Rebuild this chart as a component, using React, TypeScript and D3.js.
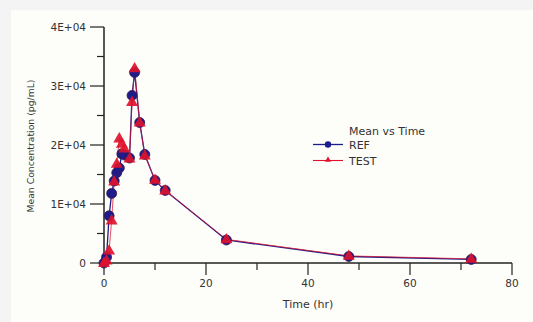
import React from 'react';
import * as d3 from 'd3';

// sampling times (hr) and mean concentrations (pg/mL)
const times = [0, 0.5, 1, 1.5, 2, 2.5, 3, 3.5, 4, 5, 5.5, 6, 7, 8, 10, 12, 24, 48, 72];
const refValues = [0, 1000, 8000, 11800, 13900, 15300, 16100, 18500, 18300, 17800, 28400, 32300, 23800, 18400, 14000, 12300, 3900, 1100, 600];
const testValues = [0, 400, 2100, 7200, 13800, 16800, 21100, 20200, 19400, 17700, 27300, 33000, 23800, 18200, 14100, 12300, 4000, 1200, 700];

const xMajorTicks = [0, 20, 40, 60, 80];
const xMinorTicks = [10, 30, 50, 70];
const yMajorTicks = [0, 10000, 20000, 30000, 40000];
const yMinorTicks = [5000, 15000, 25000, 35000];
const yTickLabels = ['0', '1E+04', '2E+04', '3E+04', '4E+04'];

const W = 533;
const H = 322;
const margin = { top: 27, right: 21, bottom: 59, left: 104 };

const REF_COLOR = '#1c1c8c';
const TEST_COLOR = '#e0122c';
const FONT = 'DejaVu Sans, Verdana, sans-serif';

const App = () => {
  const x = d3.scaleLinear().domain([0, 80]).range([margin.left, W - margin.right]);
  const y = d3.scaleLinear().domain([0, 40000]).range([H - margin.bottom, margin.top]);

  const line = d3.line<number>()
    .x((_, i) => x(times[i]))
    .y(d => y(d));

  const tri = d3.symbol().type(d3.symbolTriangle).size(62)();
  const triSmall = d3.symbol().type(d3.symbolTriangle).size(16)();

  const x0 = x(0);
  const y0 = y(0);

  return (
    <div style={{ position: 'fixed', left: 0, top: 0 }}>
      <svg width={W} height={H} style={{ display: 'block' }} fontFamily={FONT}>
        <rect x={0} y={0} width={W} height={H} fill="#f4f4f4" />
        <rect x={11} y={10} width={W - 11} height={H - 10} fill="#fdfdf9" />

        {/* axes */}
        <line x1={x0 - 4} x2={x(80)} y1={y0} y2={y0} stroke="#222" strokeWidth={1.5} />
        <line x1={x0} x2={x0} y1={y0} y2={y(40000)} stroke="#222" strokeWidth={1.5} />

        {xMajorTicks.map(t => (
          <g key={'xm' + t}>
            <line x1={x(t)} x2={x(t)} y1={y0} y2={y0 + 12} stroke="#222" strokeWidth={1.2} />
            <text x={x(t)} y={y0 + 24} textAnchor="middle" fontSize={10.5} fill="#333">{t}</text>
          </g>
        ))}
        {xMinorTicks.map(t => (
          <line key={'xn' + t} x1={x(t)} x2={x(t)} y1={y0} y2={y0 + 7} stroke="#222" strokeWidth={1.2} />
        ))}

        {yMajorTicks.map((t, i) => (
          <g key={'ym' + t}>
            <line x1={x0 - 14} x2={x0} y1={y(t)} y2={y(t)} stroke="#222" strokeWidth={1.2} />
            <text x={x0 - 18} y={y(t) + 3.5} textAnchor="end" fontSize={10.5} fill="#333">{yTickLabels[i]}</text>
          </g>
        ))}
        {yMinorTicks.map(t => (
          <line key={'yn' + t} x1={x0 - 7} x2={x0} y1={y(t)} y2={y(t)} stroke="#222" strokeWidth={1.2} />
        ))}

        <text x={308} y={308} textAnchor="middle" fontSize={11} fill="#333">Time (hr)</text>
        <text transform="translate(34,146) rotate(-90)" textAnchor="middle" fontSize={9.5} fill="#333" textLength={133} lengthAdjust="spacingAndGlyphs">
          Mean Concentration (pg/mL)
        </text>

        {/* REF series */}
        <path d={line(refValues) || ''} fill="none" stroke={REF_COLOR} strokeWidth={1.3} />
        {/* TEST series */}
        <path d={line(testValues) || ''} fill="none" stroke={TEST_COLOR} strokeWidth={1} strokeOpacity={0.75} />
        {refValues.map((v, i) => (
          <circle key={'r' + i} cx={x(times[i])} cy={y(v)} r={5} fill={REF_COLOR} stroke="#3a1848" strokeWidth={0.8} />
        ))}
        {testValues.map((v, i) => (
          <path key={'t' + i} d={tri || ''} transform={`translate(${x(times[i])},${y(v) + 0.5})`} fill={TEST_COLOR} fillOpacity={0.92} />
        ))}

        {/* legend */}
        <text x={349} y={135} fontSize={11} fill="#333">Mean vs Time</text>
        <line x1={313} x2={343} y1={144.5} y2={144.5} stroke={REF_COLOR} strokeWidth={1.3} />
        <circle cx={328} cy={144.5} r={3.2} fill={REF_COLOR} />
        <text x={349} y={148.5} fontSize={11} fill="#333">REF</text>
        <line x1={313} x2={343} y1={160.5} y2={160.5} stroke={TEST_COLOR} strokeWidth={1.1} />
        <path d={triSmall || ''} transform="translate(328,160)" fill={TEST_COLOR} />
        <text x={349} y={164.5} fontSize={11} fill="#333">TEST</text>
      </svg>
    </div>
  );
};

export default App;
